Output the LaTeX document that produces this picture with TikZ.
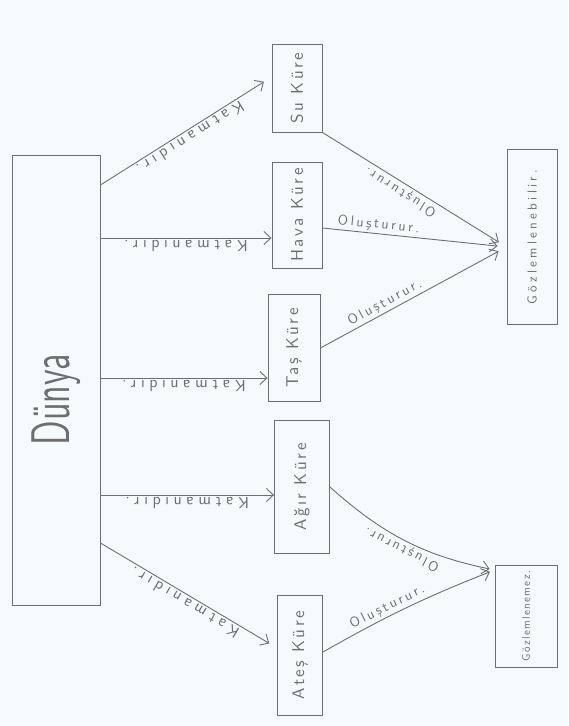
\documentclass[tikz,border=0pt]{standalone}
\usepackage{fontspec}
\setsansfont[Extension=.otf]{lmsans10-regular}
\usetikzlibrary{arrows.meta,calc}
\definecolor{ink}{HTML}{6E6E6E}
\definecolor{kagit}{HTML}{F5FBFD}
\tikzset{
  kutu/.style={draw=ink, line width=0.9pt, inner sep=0pt, text=ink,
    font=\sffamily\fontsize{17}{17}\selectfont\addfontfeature{LetterSpace=15}},
  ok/.style={draw=ink, line width=0.9pt, -{Straight Barb[length=7pt,width=13pt]}},
  etiket/.style={text=ink, inner sep=2pt,
    font=\sffamily\fontsize{16}{16}\selectfont\addfontfeature{LetterSpace=28}},
  etiket2/.style={etiket, font=\sffamily\fontsize{14}{14}\selectfont\addfontfeature{LetterSpace=18}},
}
\begin{document}
\begin{tikzpicture}[x=1pt,y=-1pt]
  \fill[kagit] (0,0) rectangle (568,726);
  \useasboundingbox (0,0) rectangle (568,726);
  % Dunya
  \node[kutu, minimum width=88pt, minimum height=450pt] (dunya) at (56,380) {};
  \node[text=ink, font=\sffamily\fontsize{34}{34}\selectfont, rotate=90] (dunyayazi) at (56,400)
    {\scalebox{1}[1.6]{Dünya}};
  % katmanlar
  \node[kutu, minimum width=50pt, minimum height=88pt] (su) at (297,88) {\rotatebox{90}{Su Küre}};
  \node[kutu, minimum width=50pt, minimum height=106pt] (hava) at (297,215) {\rotatebox{90}{Hava Küre}};
  \node[kutu, minimum width=52pt, minimum height=107pt] (tas) at (294,348) {\rotatebox{90}{Taş Küre}};
  \node[kutu, minimum width=55pt, minimum height=133pt] (agir) at (302,487) {\rotatebox{90}{Ağır Küre}};
  \node[kutu, minimum width=45pt, minimum height=120pt] (ates) at (300,655) {\rotatebox{90}{Ateş Küre}};
  % sonuclar
  \node[kutu, minimum width=50pt, minimum height=175pt,
    font=\sffamily\fontsize{13}{13}\selectfont\addfontfeature{LetterSpace=25}]
    (gozb) at (532,237) {\rotatebox{90}{Gözlemlenebilir.}};
  \node[kutu, minimum width=62pt, minimum height=102pt,
    font=\sffamily\fontsize{11}{11}\selectfont\addfontfeature{LetterSpace=12}]
    (goze) at (526,616) {\rotatebox{90}{Gözlemlenemez.}};
  % Dunya -> katmanlar
  \foreach \kure/\a/\b/\k in {su/-195/-11/9, hava/-142/23/0, tas/-2/30/0, agir/115/8/0, ates/163/-7/9}
    \draw[ok, shorten >=\k pt] ($(dunya.east)+(0,\a)$) -- ($(\kure.west)+(0,\b)$)
      node[etiket, midway, sloped, rotate=180, above] {Katmanıdır.};
  % katmanlar -> sonuclar
  \draw[ok, shorten >=9pt] (su.south east) -- ($(gozb.west)+(0,10)$)
    node[etiket2, pos=0.45, sloped, rotate=180, above] {Oluşturur.};
  \draw[ok, shorten >=9pt] ($(hava.east)+(0,13)$) -- ($(gozb.west)+(0,10)$)
    node[etiket2, pos=0.3, sloped, above] {Oluşturur.};
  \draw[ok, shorten >=9pt] (tas.east) -- ($(gozb.west)+(0,10)$)
    node[etiket2, pos=0.37, sloped, above] {Oluşturur.};
  \draw[ok, shorten >=5pt] (agir.east) to[bend right=15]
    node[etiket2, midway, sloped, rotate=180, above] {Oluşturur.} ($(goze.west)+(0,-46)$);
  \draw[ok, shorten >=5pt] ($(ates.east)+(0,-3)$) to[bend left=4]
    node[etiket2, pos=0.4, sloped, above] {Oluşturur.} ($(goze.west)+(0,-46)$);
\end{tikzpicture}
\end{document}
